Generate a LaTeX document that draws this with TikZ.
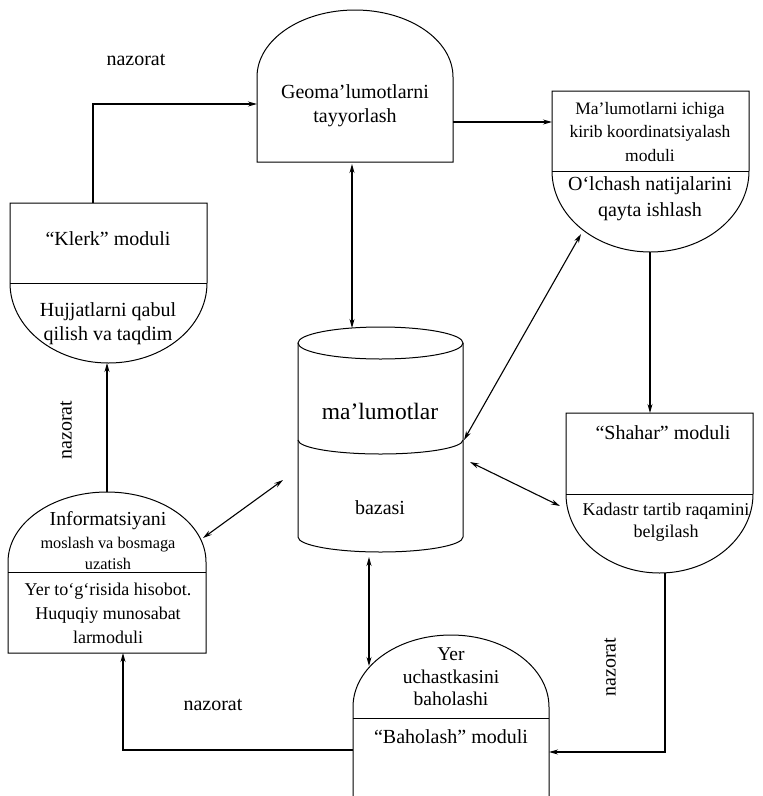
\documentclass[tikz,border=0pt]{standalone}
\usepackage{fontspec}
\setmainfont{Liberation Serif}
\usetikzlibrary{arrows.meta}
\begin{document}
\begin{tikzpicture}[x=1pt,y=-1pt,
  shapeline/.style={line width=1pt, black},
  link/.style={line width=1.1pt, -{Stealth[length=9pt,width=5pt]}},
  dlink/.style={line width=1.1pt, {Stealth[length=9pt,width=5pt]}-{Stealth[length=9pt,width=5pt]}},
  txt/.style={align=center, inner sep=0pt, font=\fontsize{20}{24}\selectfont},
  smalltxt/.style={align=center, inner sep=0pt, font=\fontsize{17.5}{23.5}\selectfont},
  midtxt/.style={align=center, inner sep=0pt, font=\fontsize{18}{22}\selectfont},
]
\useasboundingbox (0,0) rectangle (763,796);

% ---- module shapes ----
% Geoma'lumotlarni tayyorlash (round top)
\draw[shapeline] (257,162) -- (257,77) arc[start angle=180,end angle=360,x radius=98,y radius=67] -- (453,162) -- cycle;
% coordination module (round bottom)
\draw[shapeline] (552,171) -- (552,91) -- (749,91) -- (749,171) arc[start angle=0,end angle=180,x radius=98.5,y radius=81] -- cycle;
\draw[shapeline] (552,171) -- (749,171);
% Klerk module
\draw[shapeline] (10,283) -- (10,203) -- (207,203) -- (207,283) arc[start angle=0,end angle=180,x radius=98.5,y radius=80] -- cycle;
\draw[shapeline] (10,283) -- (207,283);
% Shahar module
\draw[shapeline] (566,494) -- (566,413) -- (753,413) -- (753,494) arc[start angle=0,end angle=180,x radius=93.5,y radius=79] -- cycle;
\draw[shapeline] (566,494) -- (753,494);
% Informatsiyani module (round top)
\draw[shapeline] (8,653) -- (8,562) arc[start angle=180,end angle=360,x radius=99,y radius=70] -- (206,653) -- cycle;
\draw[shapeline] (8,572) -- (206,572);
% Baholash module (round top, open below)
\draw[shapeline] (353,796) -- (353,707) arc[start angle=180,end angle=360,x radius=98,y radius=72] -- (549,796);
\draw[shapeline] (353,718) -- (549,718);
% database cylinder
\draw[shapeline] (380.5,343) ellipse [x radius=82.5, y radius=16];
\draw[shapeline] (298,343) -- (298,537) arc[start angle=180,end angle=0,x radius=82.5,y radius=15] -- (463,343);
\draw[shapeline] (298,440) arc[start angle=180,end angle=0,x radius=82.5,y radius=14];

% ---- texts ----
\node[txt] (geoma) at (355,105.5) {Geoma’lumotlarni\\tayyorlash};
\node[smalltxt] (koord) at (650,132) {Ma’lumotlarni ichiga\\kirib koordinatsiyalash\\moduli};
\node[txt, font=\fontsize{20}{26}\selectfont] (olchash) at (650,199) {O‘lchash natijalarini\\qayta ishlash};
\node[txt] (klerk) at (108,239) {“Klerk” moduli};
\node[txt] (hujjat) at (108,324) {Hujjatlarni qabul\\qilish va taqdim};
\node[txt, font=\fontsize{23.5}{28}\selectfont] (dbtop) at (380,411) {ma’lumotlar};
\node[txt] (dbbot) at (380,508) {bazasi};
\node[txt] (shahar) at (663,433) {“Shahar” moduli};
\node[midtxt] (kadastr) at (666,522) {Kadastr tartib raqamini\\belgilash};
\node[txt, font=\fontsize{19.8}{22}\selectfont] (inform) at (108,521) {Informatsiyani};
\node[txt, font=\fontsize{16.3}{21}\selectfont] (moslash) at (108,553.5) {moslash va bosmaga\\uzatish};
\node[midtxt, font=\fontsize{18}{24}\selectfont] (hisobot) at (108,613) {Yer to‘g‘risida hisobot.\\Huquqiy munosabat\\larmoduli};
\node[txt, font=\fontsize{19.5}{22.5}\selectfont] (yer) at (451,677) {Yer\\uchastkasini\\baholashi};
\node[txt] (baholash) at (451,737) {“Baholash” moduli};

\node[txt] (nazTop) at (136,60) {nazorat};
\node[txt, rotate=90] (nazLeft) at (66,430) {nazorat};
\node[txt] (nazBottom) at (213,705) {nazorat};
\node[txt, rotate=90] (nazRight) at (610,667) {nazorat};

% ---- connector ends ----
\coordinate (klerkTop) at (93,203);
\coordinate (geomaL) at (257,104);
\coordinate (geomaR) at (453,122);
\coordinate (koordL) at (552,122);
\coordinate (geomaB) at (352,164);
\coordinate (dbTop) at (352,328);
\coordinate (dbMidR) at (464,440);
\coordinate (koordArc) at (581,234);
\coordinate (koordB) at (650,252);
\coordinate (shaharT) at (650,413);
\coordinate (dbR) at (470,462);
\coordinate (shaharL) at (560,506);
\coordinate (shaharB) at (665,573);
\coordinate (baholR) at (549,752);
\coordinate (dbB) at (369,557);
\coordinate (baholT) at (369,666);
\coordinate (dbL) at (283,480);
\coordinate (infoArc) at (203,538);
\coordinate (infoT) at (107,492);
\coordinate (klerkB) at (107,363);
\coordinate (baholL) at (353,750);
\coordinate (infoB) at (123,653);

% ---- connectors ----
\draw[link] (klerkTop) |- (geomaL);
\draw[link] (geomaR) -- (koordL);
\draw[dlink] (geomaB) -- (dbTop);
\draw[dlink] (dbMidR) -- (koordArc);
\draw[link] (koordB) -- (shaharT);
\draw[dlink] (dbR) -- (shaharL);
\draw[link] (shaharB) |- (baholR);
\draw[dlink] (dbB) -- (baholT);
\draw[dlink] (dbL) -- (infoArc);
\draw[link] (infoT) -- (klerkB);
\draw[link] (baholL) -| (infoB);
\end{tikzpicture}
\end{document}
